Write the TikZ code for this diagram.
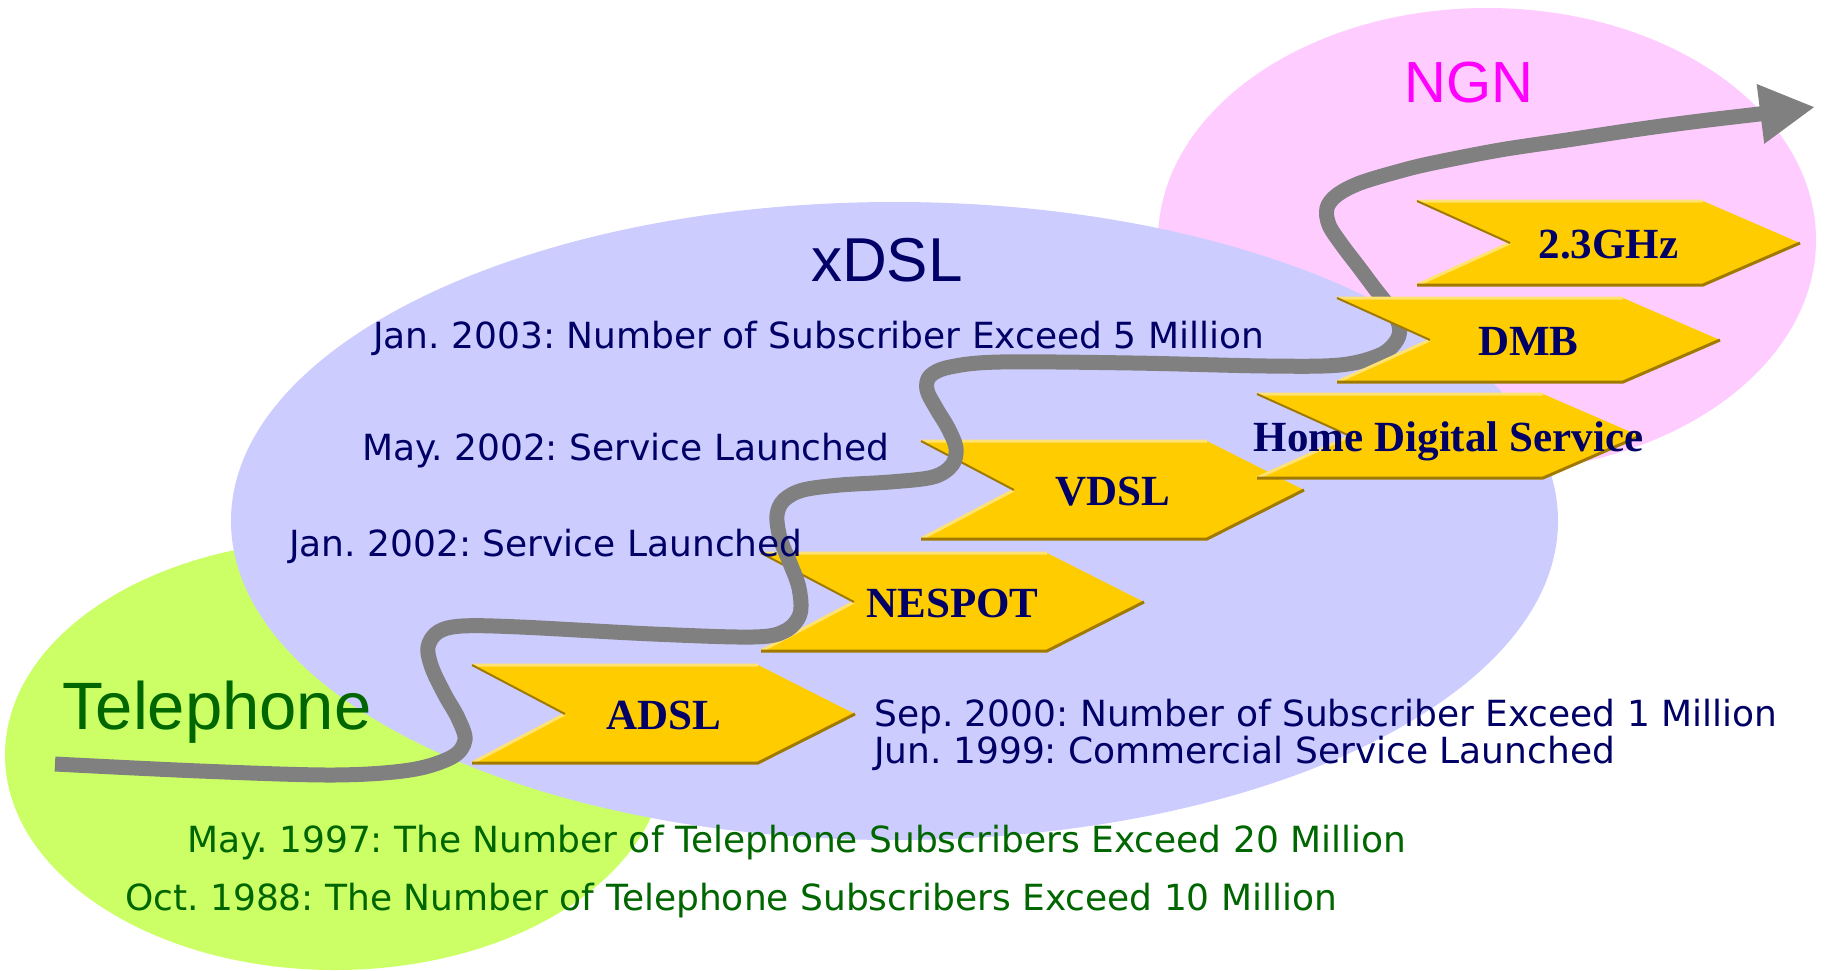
\documentclass[tikz,border=0pt]{standalone}
\usepackage{fontspec}
\setmainfont{Liberation Serif}
\newfontfamily\verd{DejaVu Sans}
\newfontfamily\arl{Liberation Sans}
\usetikzlibrary{arrows.meta}
\frenchspacing
\definecolor{egreen}{HTML}{CCFF66}
\definecolor{eblue}{HTML}{CCCCFF}
\definecolor{epink}{HTML}{FFCCFF}
\definecolor{chfill}{HTML}{FFCC00}
\definecolor{chlight}{HTML}{FFE270}
\definecolor{chdark}{HTML}{A07A00}
\definecolor{navy}{HTML}{000066}
\definecolor{dgreen}{HTML}{006600}
\definecolor{pathgray}{HTML}{808080}
\definecolor{ngnmag}{HTML}{FF00FF}
\tikzset{
  chlabel/.style={font=\fontsize{43}{48}\selectfont\bfseries, text=navy, inner sep=0pt, anchor=base},
  note/.style={font=\verd\fontsize{36}{40}\selectfont, inner sep=0pt, anchor=base west},
  biglabel/.style={inner sep=0pt, anchor=base},
  road/.style={pathgray, line width=15pt, line join=round, -{Triangle[length=55pt,width=56pt]}}
}
\newcommand{\chev}[5]{%
  \begin{scope}[shift={(#2,#3)}]
    \fill[chfill] (0,0) -- (286,0) -- (383,#4/2) -- (286,#4) -- (0,#4) -- (93,#4/2) -- cycle;
    \draw[chlight, line width=3pt] (0,0) -- (286,0) (93,#4/2) -- (0,#4);
    \draw[chdark, line width=2pt] (0,0) -- (93,#4/2);
    \draw[chdark, line width=3pt] (383,#4/2) -- (286,#4) -- (0,#4);
    \node[chlabel] (#1) at (191.5,#4/2+15) {#5};
  \end{scope}}
\begin{document}
\begin{tikzpicture}[x=1pt,y=-1pt]
\useasboundingbox (0,0) rectangle (1830,970);
\fill[white] (0,0) rectangle (1830,970);
% ellipses
\fill[egreen] (335,755) ellipse [x radius=330pt, y radius=215pt];
\fill[epink] (1487,240) ellipse [x radius=329pt, y radius=232pt];
\fill[eblue] (894.5,521) ellipse [x radius=663.5pt, y radius=319pt];
% lower chevrons
\chev{adsl}{472}{665}{98}{ADSL}
\chev{nespot}{761}{553}{98}{NESPOT}
\chev{vdsl}{921}{441}{98}{VDSL}
% road
\draw[road] plot[smooth, tension=0.55] coordinates {
 (55,764) (200,771) (333,775) (410,770) (452,757) (465,740) (458,718) (445,695)
 (432,668) (428,647) (438,632) (462,626) (520,627) (653,634) (753,637) (785,631)
 (800,614) (799,588) (790,563) (780,538) (777,515) (784,500) (803,490) (840,485)
 (890,482) (933,477) (952,465) (956,448) (948,428) (936,408) (927,390) (930,376)
 (950,367) (1000,362) (1133,363) (1267,366) (1340,365) (1380,355) (1397,340)
 (1399,325) (1390,308) (1376,290) (1358,266) (1342,245) (1329,225) (1327,208)
 (1337,195) (1360,183) (1400,171) (1433,163) (1500,150) (1567,140) (1640,129)
 (1700,121) (1759,114) (1815,107)};
% upper chevrons
\chev{hds}{1257}{394}{84}{Home Digital Service}
\chev{dmb}{1337}{298}{84}{DMB}
\chev{ghz}{1417}{201}{84}{2.3GHz}
% big labels
\node[biglabel, font=\arl\fontsize{62}{68}\selectfont, text=navy] (xdsl) at (887,281) {xDSL};
\node[biglabel, font=\arl\fontsize{58}{64}\selectfont, text=ngnmag] (ngn) at (1469,102) {NGN};
\node[biglabel, anchor=base west, font=\arl\fontsize{67}{72}\selectfont, text=dgreen] (tel) at (62,729) {Telephone};
% notes
\node[note, text=navy] (n2003) at (373,348) {Jan. 2003: Number of Subscriber Exceed 5 Million};
\node[note, text=navy] (nmay02) at (362,460) {May. 2002: Service Launched};
\node[note, text=navy] (njan02) at (289,556) {Jan. 2002: Service Launched};
\node[note, text=navy] (nsep00) at (874,726) {Sep. 2000: Number of Subscriber Exceed 1 Million};
\node[note, text=navy] (njun99) at (874,763) {Jun. 1999: Commercial Service Launched};
\node[note, text=dgreen] (nmay97) at (187,852) {May. 1997: The Number of Telephone Subscribers Exceed 20 Million};
\node[note, text=dgreen] (noct88) at (125,910) {Oct. 1988: The Number of Telephone Subscribers Exceed 10 Million};
\end{tikzpicture}
\end{document}
